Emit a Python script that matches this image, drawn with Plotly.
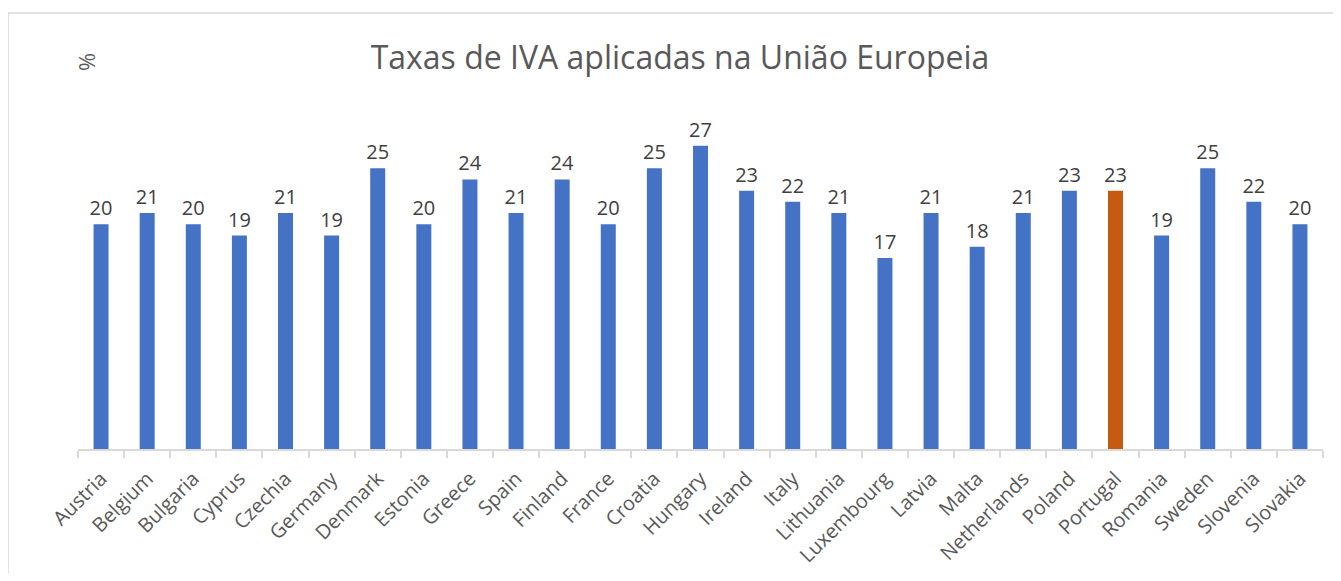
import plotly.graph_objects as go

countries = ["Austria", "Belgium", "Bulgaria", "Cyprus", "Czechia", "Germany", "Denmark",
             "Estonia", "Greece", "Spain", "Finland", "France", "Croatia", "Hungary",
             "Ireland", "Italy", "Lithuania", "Luxembourg", "Latvia", "Malta",
             "Netherlands", "Poland", "Portugal", "Romania", "Sweden", "Slovenia", "Slovakia"]
vat_rates = [20, 21, 20, 19, 21, 19, 25, 20, 24, 21, 24, 20, 25, 27, 23, 22, 21, 17,
             21, 18, 21, 23, 23, 19, 25, 22, 20]
highlight = "Portugal"

BLUE = "#4472C4"
ORANGE = "#C55A11"
colors = [ORANGE if c == highlight else BLUE for c in countries]

# page has an 8px body margin; work in page coords and offset
OFF = 8
W, H = 1341 - 2 * OFF, 581 - 2 * OFF
L, R, T, B = 78 - OFF, 1341 - 1323 - OFF, 112 - OFF, 581 - 449 - OFF
pw, ph = W - L - R, H - T - B

fig = go.Figure(go.Bar(
    x=countries, y=vat_rates, marker=dict(color=colors, line=dict(width=0)),
    text=[str(v) for v in vat_rates], textposition="outside",
    textfont=dict(family="Open Sans", size=20, color="#404040"),
    constraintext="none", cliponaxis=False,
))

fig.update_layout(
    width=W, height=H,
    margin=dict(l=L, r=R, t=T, b=B, autoexpand=False),
    paper_bgcolor="white", plot_bgcolor="white",
    bargap=0.675,
    showlegend=False,
    title=dict(text="Taxas de IVA aplicadas na União Europeia",
               x=(680 - OFF - L) / pw, xref="paper", xanchor="center",
               y=1 - (58 - OFF) / H, yanchor="middle",
               font=dict(family="Open Sans", size=32, color="#595959")),
    xaxis=dict(showline=True, linecolor="#D9D9D9", linewidth=2, ticks="outside",
               tickson="boundaries", ticklen=7, tickcolor="#D9D9D9", tickwidth=2,
               tickangle=-45, ticklabelstandoff=8, automargin=False,
               tickfont=dict(family="Open Sans", size=20, color="#595959"),
               showgrid=False, zeroline=False),
    yaxis=dict(range=[0, 30], visible=False, showgrid=False, automargin=False),
    annotations=[dict(text="%", textangle=-90, xref="paper", yref="paper",
                      x=(86 - 78) / pw, y=(449 - 62) / ph, xanchor="center", yanchor="middle",
                      showarrow=False, font=dict(family="Open Sans", size=22, color="#595959"))],
    shapes=[dict(type="rect", xref="paper", yref="paper",
                 x0=(8 - 78) / pw, x1=(1350 - 78) / pw,
                 y0=(449 - 600) / ph, y1=(449 - 13) / ph,
                 line=dict(color="#D9D9D9", width=1.5), fillcolor="rgba(0,0,0,0)", layer="below")],
)

fig.write_html("out.html")
